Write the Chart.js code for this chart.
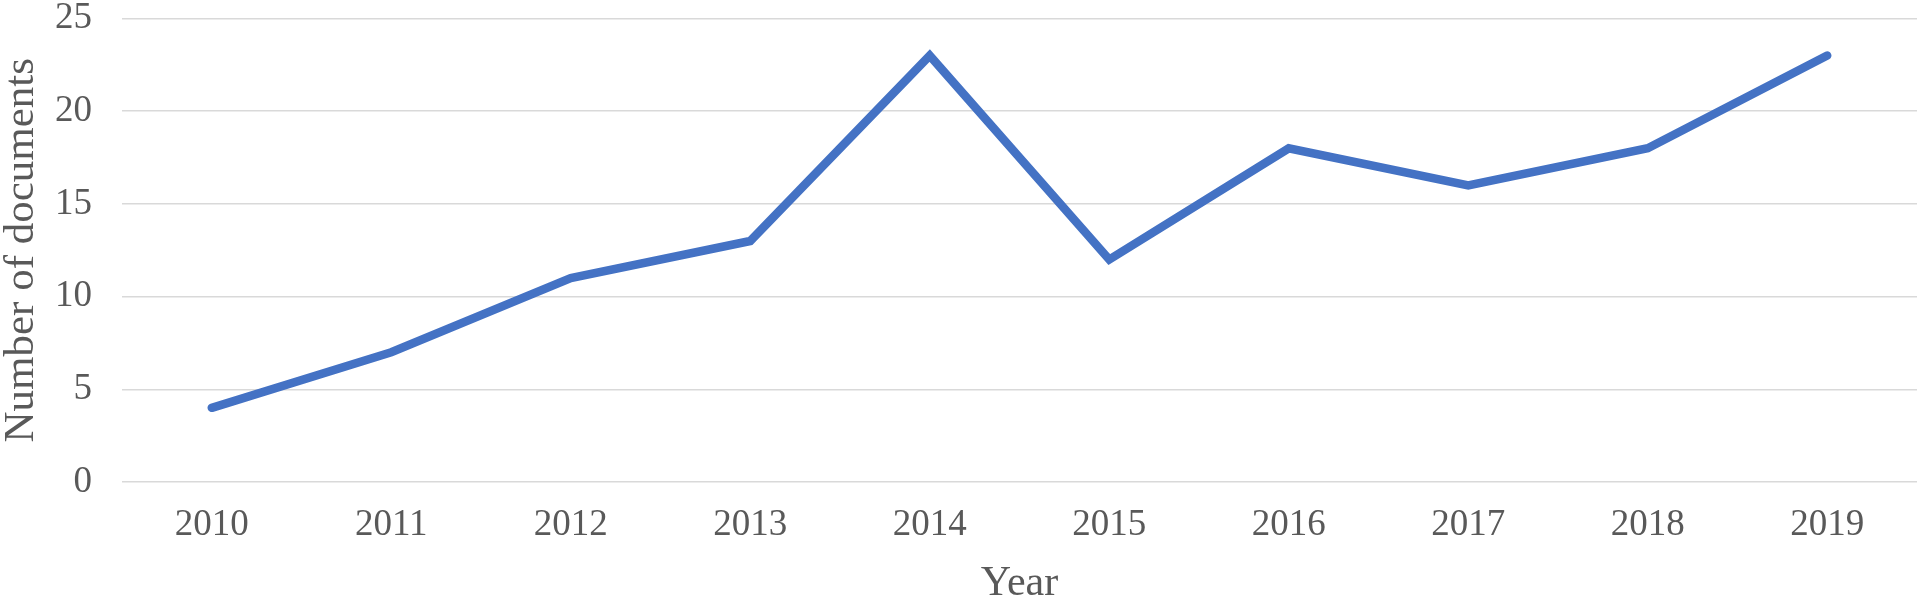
<!DOCTYPE html>
<html>
<head>
<meta charset="utf-8">
<script src="https://cdn.jsdelivr.net/npm/chart.js@4/dist/chart.umd.min.js"></script>
<style>
  html, body { margin: 0; padding: 0; background: #ffffff; }
  #wrap { width: 1925px; height: 605px; position: relative; }
</style>
</head>
<body>
<div id="wrap"><canvas id="c" width="1925" height="605"></canvas></div>
<script>
const years = ['2010', '2011', '2012', '2013', '2014', '2015', '2016', '2017', '2018', '2019'];
const documents = [4, 7, 11, 13, 23, 12, 18, 16, 18, 23];
const yTicks = [0, 5, 10, 15, 20, 25];
const xTitle = 'Year';
const yTitle = 'Number of documents';

const textColor = '#595959';
const serif = '"Liberation Serif", "Times New Roman", serif';

const chart = new Chart(document.getElementById('c'), {
  type: 'line',
  data: {
    labels: years,
    datasets: [{
      label: yTitle,
      data: documents,
      borderColor: '#4472C4',
      backgroundColor: '#4472C4',
      borderWidth: 8.5,
      borderJoinStyle: 'miter',
      borderCapStyle: 'round',
      pointRadius: 0,
      pointHoverRadius: 0,
      tension: 0,
      fill: false
    }]
  },
  options: {
    responsive: false,
    animation: false,
    devicePixelRatio: 1,
    layout: { padding: { top: 18, right: 8, left: 0, bottom: 0 } },
    plugins: {
      legend: { display: false },
      tooltip: { enabled: false }
    },
    scales: {
      x: {
        type: 'category',
        offset: true,
        grid: { display: false, drawTicks: false },
        border: { display: false },
        ticks: {
          color: textColor,
          padding: 25,
          maxRotation: 0,
          autoSkip: false,
          font: { family: serif, size: 37, lineHeight: 1 }
        },
        title: {
          display: true,
          text: xTitle,
          color: textColor,
          padding: 0,
          font: { family: serif, size: 42, lineHeight: 1 }
        },
        afterFit: (s) => { s.height = 123; }
      },
      y: {
        min: yTicks[0],
        max: yTicks[yTicks.length - 1],
        afterBuildTicks: (s) => { s.ticks = yTicks.map(v => ({ value: v })); },
        grid: {
          color: '#d9d9d9',
          lineWidth: 1.6,
          drawTicks: true,
          tickLength: 30,
          tickColor: 'rgba(0,0,0,0)'
        },
        border: { display: false },
        ticks: {
          color: textColor,
          padding: 0,
          font: { family: serif, size: 37, lineHeight: 1 }
        },
        title: {
          display: true,
          text: yTitle,
          color: textColor,
          padding: 0,
          font: { family: serif, size: 43, lineHeight: 1 }
        },
        afterFit: (s) => { s.width = 122; }
      }
    }
  }
});
</script>
</body>
</html>
